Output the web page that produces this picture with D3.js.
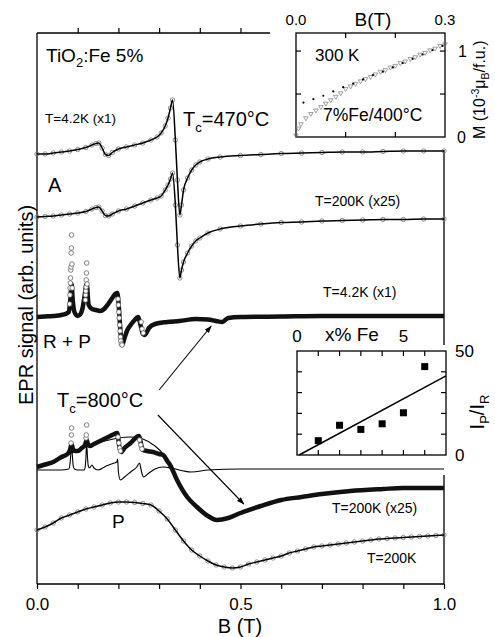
<!DOCTYPE html>
<html>
<head>
<meta charset="utf-8">
<script src="https://cdn.jsdelivr.net/npm/d3@7"></script>
<style>
  body { margin: 0; background: #fff; }
  text { font-family: "Liberation Sans", Arial, sans-serif; fill: #000; }
</style>
</head>
<body>
<svg id="chart"></svg>
<script>
// ---- main panel: EPR spectra, B in tesla, signal in arbitrary units ----
// Tc=470C, T=4.2K (x1)
const a1B = [0,0.02,0.04,0.06,0.08,0.1,0.12,0.135,0.145,0.152,0.16,0.168,0.176,0.185,0.2,0.22,0.24,0.26,0.28,0.295,0.305,0.315,0.322,0.328,0.333,0.34,0.345,0.351,0.355,0.36,0.37,0.38,0.39,0.4,0.42,0.45,0.5,0.55,0.6,0.65,0.7,0.75,0.8,0.85,0.9,0.95,1.0];
const a1V = [430,430,431,432,433,434.5,436.5,439,440.5,441,436,429.5,428.5,431.5,435,437,439,441,444,447,451,458,466,476,484,444,404,369,379,394,406,414,419,422,425,427,428.5,429.5,430.5,431,431.5,432,432,432.5,433,433,433];
// Tc=470C, T=200K (x25)
const a2B = a1B;
const a2V = [367,367.5,368,369,370,371,372.5,375,376.5,377,373,368.5,368,370,373,375,378,381,384,386,388,394,399,405,411,379,339,306,314,322,331,338,343,346,351,355,358,360,361.5,362,363,363.5,364,364.5,364.5,365,365];
// Tc=800C, T=4.2K (x1), R + P
const rpB = [0,0.02,0.04,0.06,0.07,0.078,0.082,0.085,0.088,0.092,0.1,0.107,0.112,0.117,0.122,0.127,0.135,0.145,0.155,0.165,0.175,0.185,0.192,0.197,0.209,0.215,0.222,0.23,0.24,0.248,0.255,0.26,0.265,0.275,0.29,0.32,0.35,0.39,0.42,0.44,0.455,0.47,0.5,0.6,0.7,0.8,0.9,1.0];
const rpV = [267,267.5,268,269,270,272,285,300,283,272,268,270,276,288,300,279,275,274,273,275,280,286,290,291,239,246,254,259,264,267,258,250,249,256,260,262,263,265,264.5,263,262,266,267,267.5,268,268,268,268];
// R + P: separated points (narrow lines and steep edges)
const rpMarkB = [0.08,0.0808,0.0815,0.082,0.0825,0.083,0.0835,0.084,0.0845,0.085,0.0858,0.0866,0.119,0.1195,0.12,0.1205,0.121,0.1215,0.122,0.123,0.199,0.2,0.201,0.202,0.203,0.204,0.205,0.206,0.207,0.209,0.256,0.258,0.261];
const rpMarkV = [280,289,296,301,306,314,317,331,336,349,320,296,284,289,293,297,304,311,321,300,285,279,272,266,259,253,247,243,240,239,262,255,251];
// Tc=800C, T=200K (x25)
const lowB = [0,0.02,0.04,0.06,0.075,0.081,0.085,0.089,0.095,0.1,0.11,0.118,0.122,0.126,0.13,0.14,0.15,0.165,0.18,0.19,0.197,0.203,0.207,0.215,0.23,0.245,0.25,0.26,0.27,0.285,0.3,0.31,0.32,0.327,0.344,0.369,0.393,0.42,0.442,0.47,0.5,0.55,0.6,0.65,0.7,0.77,0.85,0.9,1.0];
const lowV = [117,119.5,122,127,130,134,140,134,133,133,136,139,144,139,138,140,142,145,148,150,151,136,132,136,141,147,148,134,133,132,130,129,123,119,104,87,77,68,64,66,71,78,84,87,90,93,95,96,96];
const lowMarkB = [0.0835,0.0845,0.085,0.1205,0.121,0.122,0.199,0.201,0.203,0.205,0.252,0.255,0.258];
const lowMarkV = [141,149,156,146,149,159,147,141,136,133,144,139,135];
const lowFitB = [0,0.05,0.1,0.15,0.2,0.23,0.26,0.29,0.31,0.327,0.344];
const lowFitV = [117,124,134,141,146,147,145,138,130,119,104];
// Tc=800C, thin trace
const thinB = [0,0.03,0.06,0.078,0.081,0.083,0.085,0.087,0.089,0.092,0.1,0.116,0.118,0.12,0.122,0.124,0.126,0.129,0.135,0.14,0.15,0.17,0.19,0.196,0.198,0.2,0.205,0.215,0.23,0.245,0.252,0.254,0.257,0.262,0.275,0.29,0.31,0.33,0.36,0.38,0.42,0.5,0.6,0.7,0.8,0.9,1.0];
const thinV = [114,114,114,115,120,130,141,128,118,115,114,114,116,125,141,127,118,116,119,116,114,118,121,122,125,112,104,107,112,117,121,118,112,107,111,115,117,116,113,112,114,115,115,115,115,115,115];
// P, T=200K
const pB = [0,0.02,0.04,0.06,0.08,0.1,0.12,0.14,0.16,0.18,0.2,0.22,0.24,0.26,0.28,0.3,0.32,0.34,0.36,0.38,0.4,0.42,0.44,0.46,0.48,0.5,0.52,0.54,0.56,0.58,0.6,0.62,0.64,0.66,0.68,0.7,0.72,0.74,0.76,0.78,0.8,0.82,0.84,0.86,0.88,0.9,0.92,0.94,0.96,0.98,1.0];
const pV = [54,57,61,66,69,72,75,77,79,81,82,82,81.5,80.5,79,73,65,54,43,34,28,23,19,17,16,17,20,22,24,26,28,31,33,35,37,38,39,40,41,42,43,44,45,45.5,46,46.5,47,47.5,48,48.5,49];

// ---- top inset: magnetization at 300 K ----
const magB = [0,0.005,0.01,0.02,0.03,0.04,0.05,0.06,0.07,0.08,0.09,0.1,0.11,0.12,0.13,0.14,0.15,0.16,0.17,0.18,0.19,0.2,0.21,0.22,0.23,0.24,0.25,0.26,0.27,0.28,0.29,0.3];
const magM = [0.02,0.1,0.15,0.22,0.27,0.31,0.35,0.39,0.43,0.47,0.51,0.56,0.59,0.62,0.65,0.675,0.7,0.73,0.76,0.78,0.81,0.83,0.86,0.88,0.91,0.93,0.96,0.98,1.01,1.03,1.06,1.08];
const extB = [0.015,0.035,0.055,0.075,0.095,0.115,0.135,0.155,0.175,0.195,0.215,0.235,0.255,0.275,0.295];
const extM = [0.4,0.44,0.48,0.53,0.58,0.62,0.67,0.72,0.76,0.81,0.86,0.91,0.96,1.01,1.06];

// ---- bottom inset: I_P/I_R vs Fe content ----
const feX = [1,2,3,4,5,6];
const ipir = [6.9,14.3,12.3,15,20.3,42.5];
const feFitX = [0.1,7];
const feFitY = [0,38];

const W = 495, H = 637;
const svg = d3.select('#chart').attr('width', W).attr('height', H);

const x = d3.scaleLinear().domain([0, 1]).range([37, 444]);
const y = d3.scaleLinear().domain([0, 551]).range([584, 33]);
const zip = (a, b) => a.map((v, i) => [v, b[i]]);
const line = d3.line().x(d => x(d[0])).y(d => y(d[1])).curve(d3.curveMonotoneX);

// frame
const frame = svg.append('g').attr('stroke', '#000').attr('stroke-width', 1.3);
frame.append('line').attr('x1', 37).attr('x2', 37).attr('y1', 33).attr('y2', 584);
frame.append('line').attr('x1', 37).attr('x2', 444).attr('y1', 584).attr('y2', 584);
frame.append('line').attr('x1', 37).attr('x2', 270).attr('y1', 33).attr('y2', 33);
frame.append('line').attr('x1', 444).attr('x2', 444).attr('y1', 150).attr('y2', 345);
frame.append('line').attr('x1', 444).attr('x2', 444).attr('y1', 475).attr('y2', 584);

const tickVals = d3.range(11).map(i => i / 10);
const bottomAxis = svg.append('g').attr('transform', 'translate(0,584)')
  .call(d3.axisBottom(x).tickValues(tickVals).tickSize(5).tickSizeOuter(0).tickPadding(9)
    .tickFormat(d => (d === 0 || d === 0.5 || d === 1) ? d3.format('.1f')(d) : ''));
bottomAxis.select('.domain').remove();
bottomAxis.selectAll('line').attr('stroke-width', 1.2);
bottomAxis.selectAll('text').style('font-size', '17px');

const topAxis = svg.append('g').attr('transform', 'translate(0,33)')
  .call(d3.axisTop(x).tickValues([0.1, 0.2, 0.3, 0.4, 0.5]).tickSize(5).tickFormat(''));
topAxis.select('.domain').remove();
topAxis.selectAll('line').attr('stroke-width', 1.2);

svg.append('text').attr('x', 240).attr('y', 633).attr('text-anchor', 'middle')
  .style('font-size', '20px').text('B (T)');
svg.append('text').attr('transform', 'translate(33,305) rotate(-90)').attr('text-anchor', 'middle')
  .style('font-size', '20px').text('EPR signal (arb. units)');

// series drawing helpers
function openCircles(bs, vs, opts = {}) {
  svg.append('g').selectAll('circle').data(zip(bs, vs)).enter().append('circle')
    .attr('cx', d => x(d[0])).attr('cy', d => y(d[1])).attr('r', opts.r || 2.2)
    .attr('fill', opts.fill || 'none').attr('stroke', opts.stroke || '#777').attr('stroke-width', 0.8);
}
function path(bs, vs, width, color = '#000') {
  svg.append('path').datum(zip(bs, vs)).attr('d', line)
    .attr('fill', 'none').attr('stroke', color).attr('stroke-width', width).attr('stroke-linejoin', 'round');
}

// Tc=470C spectra
openCircles(a1B, a1V);
path(a1B, a1V, 1.5);
openCircles(a2B, a2V);
path(a2B, a2V, 1.5);

// Tc=800C spectra
path(rpB, rpV, 4.5, '#111');
openCircles(rpMarkB, rpMarkV, { fill: '#fff', stroke: '#666', r: 2.3 });

path(thinB, thinV, 1.1);
path(lowFitB, lowFitV, 1.1);
path(lowB, lowV, 4.5, '#111');
openCircles(lowMarkB, lowMarkV, { fill: '#fff', stroke: '#666', r: 2.3 });

openCircles(pB, pV);
path(pB, pV, 1.5);

// arrows
const defs = svg.append('defs');
defs.append('marker').attr('id', 'ah').attr('viewBox', '0 0 10 10').attr('refX', 9).attr('refY', 5)
  .attr('markerWidth', 7).attr('markerHeight', 7).attr('orient', 'auto')
  .append('path').attr('d', 'M0,1.5L10,5L0,8.5Z').attr('fill', '#000');
const arrows = [[0.300, 194, 0.428, 258], [0.297, 169, 0.508, 80]];
svg.append('g').selectAll('line').data(arrows).enter().append('line')
  .attr('x1', d => x(d[0])).attr('y1', d => y(d[1])).attr('x2', d => x(d[2])).attr('y2', d => y(d[3]))
  .attr('stroke', '#000').attr('stroke-width', 1.1).attr('marker-end', 'url(#ah)');

// annotations
function label(tx, ty, size, parts) {
  const t = svg.append('text').attr('x', tx).attr('y', ty).style('font-size', size + 'px');
  parts.forEach(p => {
    const s = t.append('tspan').text(p.t);
    if (p.dy) s.attr('dy', p.dy);
    if (p.fs) s.style('font-size', p.fs + 'px');
  });
  return t;
}
label(46, 62, 19, [{ t: 'TiO' }, { t: '2', dy: 5, fs: 13 }, { t: ':Fe 5%', dy: -5 }]);
label(45, 123, 13.5, [{ t: 'T=4.2K (x1)' }]);
label(183, 126, 20, [{ t: 'T' }, { t: 'c', dy: 6, fs: 13 }, { t: '=470°C', dy: -6 }]);
label(48, 192, 20, [{ t: 'A' }]);
label(315, 206, 14, [{ t: 'T=200K (x25)' }]);
label(323, 297, 14, [{ t: 'T=4.2K (x1)' }]);
label(43, 348, 19, [{ t: 'R + P' }]);
label(57, 407, 20, [{ t: 'T' }, { t: 'c', dy: 6, fs: 13 }, { t: '=800°C', dy: -6 }]);
label(332, 513, 14, [{ t: 'T=200K (x25)' }]);
label(112, 528, 19, [{ t: 'P' }]);
label(367, 563, 14, [{ t: 'T=200K' }]);

// ---- top inset ----
const ix = d3.scaleLinear().domain([0, 0.3]).range([296, 445]);
const iy = d3.scaleLinear().domain([0, 1.21]).range([137, 33]);
const inset1 = svg.append('g');
inset1.append('rect').attr('x', 296).attr('y', 33).attr('width', 149).attr('height', 104)
  .attr('fill', 'none').attr('stroke', '#000').attr('stroke-width', 1.3);
const tk1 = inset1.append('g').attr('stroke', '#000').attr('stroke-width', 1.2);
[0.1, 0.2].forEach(b => {
  tk1.append('line').attr('x1', ix(b)).attr('x2', ix(b)).attr('y1', 137).attr('y2', 132);
  tk1.append('line').attr('x1', ix(b)).attr('x2', ix(b)).attr('y1', 33).attr('y2', 38);
});
[0.5, 1].forEach(m => {
  tk1.append('line').attr('x1', 296).attr('x2', 301).attr('y1', iy(m)).attr('y2', iy(m));
  tk1.append('line').attr('x1', 445).attr('x2', 440).attr('y1', iy(m)).attr('y2', iy(m));
});
inset1.append('g').selectAll('path').data(zip(magB, magM)).enter().append('path')
  .attr('d', d3.symbol(d3.symbolTriangle).size(9))
  .attr('transform', d => `translate(${ix(d[0])},${iy(d[1])}) rotate(180)`)
  .attr('fill', 'none').attr('stroke', '#777').attr('stroke-width', 0.7);
inset1.append('g').selectAll('circle').data(zip(extB, extM)).enter().append('circle')
  .attr('cx', d => ix(d[0])).attr('cy', d => iy(d[1])).attr('r', 1.1).attr('fill', '#000');
inset1.append('text').attr('x', ix(0)).attr('y', 25).attr('text-anchor', 'middle').style('font-size', '15px').text('0.0');
inset1.append('text').attr('x', ix(0.3)).attr('y', 25).attr('text-anchor', 'middle').style('font-size', '15px').text('0.3');
inset1.append('text').attr('x', ix(0.155)).attr('y', 26).attr('text-anchor', 'middle').style('font-size', '19px').text('B(T)');
inset1.append('text').attr('x', 458).attr('y', iy(1) + 6).style('font-size', '16px').text('1');
inset1.append('text').attr('x', 457).attr('y', iy(0) + 6).style('font-size', '16px').text('0');
inset1.append('text').attr('x', 315).attr('y', 61).style('font-size', '17px').text('300 K');
inset1.append('text').attr('x', 323).attr('y', 121).style('font-size', '17.5px').text('7%Fe/400°C');
const mLab = inset1.append('text').attr('transform', `translate(485,${iy(0.55)}) rotate(-90)`)
  .attr('text-anchor', 'middle').style('font-size', '16px');
mLab.append('tspan').text('M (10');
mLab.append('tspan').attr('dy', -6).style('font-size', '10.5px').text('-3');
mLab.append('tspan').attr('dy', 6).text('μ');
mLab.append('tspan').attr('dy', 4).style('font-size', '10.5px').text('B');
mLab.append('tspan').attr('dy', -4).text('/f.u.)');

// ---- bottom inset ----
const bx = d3.scaleLinear().domain([0, 7]).range([297, 446]);
const by = d3.scaleLinear().domain([0, 50]).range([455, 351]);
const inset2 = svg.append('g');
inset2.append('rect').attr('x', 297).attr('y', 351).attr('width', 149).attr('height', 104)
  .attr('fill', 'none').attr('stroke', '#000').attr('stroke-width', 1.3);
const tk2 = inset2.append('g').attr('stroke', '#000').attr('stroke-width', 1.2);
d3.range(1, 7).forEach(v => {
  tk2.append('line').attr('x1', bx(v)).attr('x2', bx(v)).attr('y1', 455).attr('y2', 450);
  tk2.append('line').attr('x1', bx(v)).attr('x2', bx(v)).attr('y1', 351).attr('y2', 356);
});
[10, 20, 30, 40].forEach(v => {
  tk2.append('line').attr('x1', 297).attr('x2', 302).attr('y1', by(v)).attr('y2', by(v));
  tk2.append('line').attr('x1', 446).attr('x2', 441).attr('y1', by(v)).attr('y2', by(v));
});
inset2.append('line').attr('x1', bx(feFitX[0])).attr('y1', by(feFitY[0]))
  .attr('x2', bx(feFitX[1])).attr('y2', by(feFitY[1])).attr('stroke', '#000').attr('stroke-width', 1.5);
inset2.append('g').selectAll('rect').data(zip(feX, ipir)).enter().append('rect')
  .attr('x', d => bx(d[0]) - 3.5).attr('y', d => by(d[1]) - 3.5).attr('width', 7).attr('height', 7)
  .attr('fill', '#000');
inset2.append('text').attr('x', bx(0)).attr('y', 342).attr('text-anchor', 'middle').style('font-size', '17px').text('0');
inset2.append('text').attr('x', bx(5)).attr('y', 342).attr('text-anchor', 'middle').style('font-size', '17px').text('5');
inset2.append('text').attr('x', 352).attr('y', 341).attr('text-anchor', 'middle').style('font-size', '19px').text('x% Fe');
inset2.append('text').attr('x', 455).attr('y', by(50) + 6).style('font-size', '17px').text('50');
inset2.append('text').attr('x', 455).attr('y', by(0) + 6).style('font-size', '17px').text('0');
const iLab = inset2.append('text').attr('transform', 'translate(484,412) rotate(-90)')
  .attr('text-anchor', 'middle').style('font-size', '20px');
iLab.append('tspan').text('I');
iLab.append('tspan').attr('dy', 5).style('font-size', '13px').text('P');
iLab.append('tspan').attr('dy', -5).text('/I');
iLab.append('tspan').attr('dy', 5).style('font-size', '13px').text('R');
</script>
</body>
</html>
